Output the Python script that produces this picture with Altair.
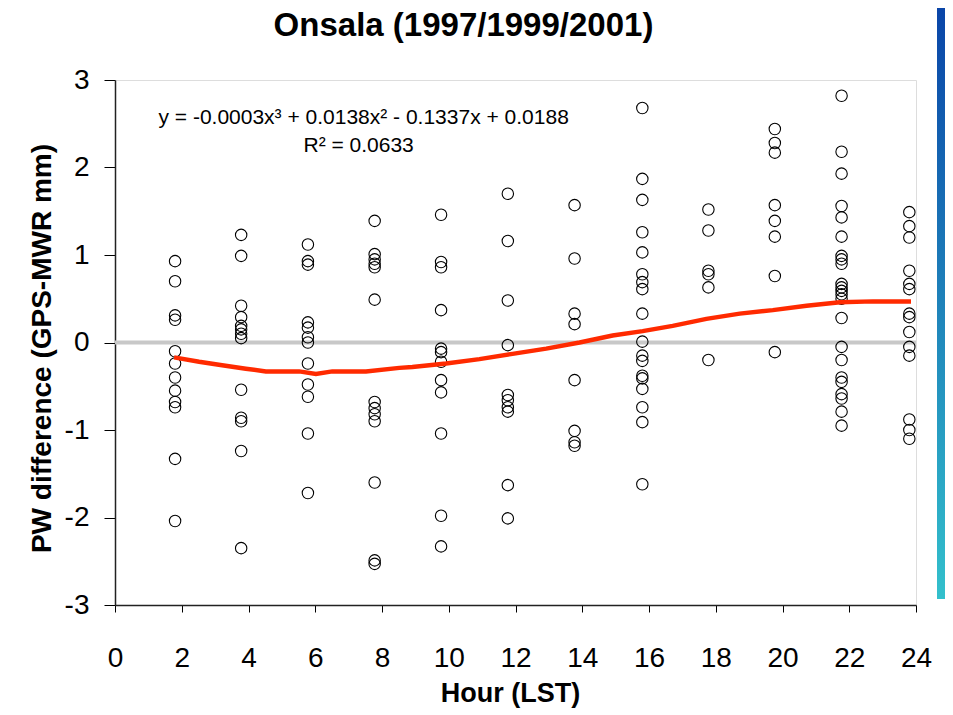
import altair as alt
import pandas as pd

FONT = "Liberation Sans"

# Hour (LST) of each observation column
hours = [1.8, 3.78, 5.78, 7.78, 9.77, 11.77, 13.77, 15.8, 17.78, 19.77, 21.77, 23.8]

# PW difference (GPS-MWR, mm) for each column
pw_02 = [0.93, 0.70, 0.31, 0.26, -0.10, -0.24, -0.40, -0.55, -0.68, -0.74, -1.33, -2.04]
pw_04 = [1.23, 0.99, 0.42, 0.29, 0.19, 0.15, 0.10, 0.05, -0.54, -0.86, -0.90, -1.24, -2.35]
pw_06 = [1.12, 0.93, 0.89, 0.23, 0.17, 0.06, 0.00, -0.24, -0.48, -0.62, -1.04, -1.72]
pw_08 = [1.39, 1.01, 0.95, 0.90, 0.86, 0.49, -0.68, -0.75, -0.82, -0.90, -1.60, -2.49, -2.53]
pw_10 = [1.46, 0.92, 0.86, 0.37, -0.07, -0.11, -0.22, -0.43, -0.57, -1.04, -1.98, -2.33]
pw_12 = [1.70, 1.16, 0.48, -0.03, -0.60, -0.66, -0.74, -0.79, -1.63, -2.01]
pw_14 = [1.57, 0.96, 0.33, 0.21, -0.43, -1.01, -1.14, -1.18]
pw_16 = [2.68, 1.87, 1.63, 1.26, 1.03, 0.78, 0.69, 0.61, 0.33, 0.01, -0.15, -0.21,
         -0.38, -0.41, -0.53, -0.74, -0.91, -1.62]
pw_18 = [1.52, 1.28, 0.82, 0.78, 0.63, -0.20]
pw_20 = [2.44, 2.28, 2.17, 1.57, 1.39, 1.21, 0.76, -0.11]
pw_22 = [2.82, 2.18, 1.93, 1.56, 1.43, 1.21, 0.99, 0.95, 0.90, 0.67, 0.63, 0.59, 0.55,
         0.50, 0.28, -0.05, -0.20, -0.40, -0.45, -0.59, -0.64, -0.79, -0.95]
pw_24 = [1.49, 1.33, 1.20, 0.82, 0.67, 0.61, 0.33, 0.29, 0.12, -0.05, -0.15, -0.88, -1.00, -1.10]

columns = [pw_02, pw_04, pw_06, pw_08, pw_10, pw_12, pw_14, pw_16, pw_18, pw_20, pw_22, pw_24]

# Trend curve
fit_hours = [1.77, 2.52, 3.21, 3.92, 4.52, 5.52, 6.02, 6.51, 7.52, 8.52, 8.91, 9.92,
             10.92, 11.91, 12.92, 13.92, 14.91, 15.81, 16.71, 17.72, 18.72, 19.71,
             20.72, 21.72, 22.71, 23.85]
fit_values = [-0.17, -0.22, -0.26, -0.30, -0.33, -0.33, -0.36, -0.33, -0.33, -0.29, -0.28,
              -0.24, -0.19, -0.13, -0.07, 0.00, 0.08, 0.13, 0.19, 0.27, 0.33, 0.37, 0.42,
              0.46, 0.47, 0.47]

x_ticks = list(range(0, 25, 2))
y_ticks = [-3, -2, -1, 0, 1, 2, 3]

eq_text = ["y = -0.0003x³ + 0.0138x² - 0.1337x + 0.0188", "R² = 0.0633"]
eq_hour = [7.45, 7.3]
eq_diff = [2.57, 2.25]

rows = [{"hour": h, "diff": v} for h, col in zip(hours, columns) for v in col]
points_df = pd.DataFrame(rows)
fit_df = pd.DataFrame({"hour": fit_hours, "diff": fit_values})
eq_df = pd.DataFrame({"hour": eq_hour, "diff": eq_diff, "label": eq_text})

xscale = alt.Scale(domain=[0, 24], nice=False, zero=False)
yscale = alt.Scale(domain=[-3, 3], nice=False)

xaxis = alt.Axis(
    values=x_ticks, title="Hour (LST)", grid=False,
    tickSize=7, tickColor="#000", tickWidth=1,
    domainColor="#222", domainWidth=1.5,
    labelFont=FONT, labelFontSize=28, labelColor="#000",
    labelBaseline="alphabetic", labelPadding=54,
    labelFlush=False, labelOverlap=False, labelExpr="'' + datum.value",
    titleFont=FONT, titleFontSize=27, titleFontWeight="bold", titleColor="#000",
    titleX=395, titleY=96, titleBaseline="alphabetic", titleAlign="center",
)
yaxis = alt.Axis(
    values=y_ticks, title="PW difference (GPS-MWR mm)", grid=False,
    tickSize=11, tickColor="#000", tickWidth=1,
    domainColor="#222", domainWidth=1.5,
    labelFont=FONT, labelFontSize=28, labelColor="#000", labelPadding=15,
    labelFlush=False, labelOverlap=False, labelExpr="'' + datum.value",
    titleFont=FONT, titleFontSize=28, titleFontWeight="bold", titleColor="#000",
    titleX=-65, titleY=268, titleAngle=270, titleBaseline="alphabetic", titleAlign="center",
)

base_x = alt.X("hour:Q", scale=xscale, axis=xaxis)
base_y = alt.Y("diff:Q", scale=yscale, axis=yaxis)

zero_rule = alt.Chart(pd.DataFrame({"diff": [0]})).mark_rule(
    color="#c8c8c8", strokeWidth=4
).encode(y=alt.Y("diff:Q", scale=yscale, axis=yaxis))

pts = alt.Chart(points_df).mark_point(
    shape="circle", filled=False, color="#000", size=130, strokeWidth=1.1, opacity=1
).encode(x=base_x, y=base_y)

curve = alt.Chart(fit_df).mark_line(color="#ff2a00", strokeWidth=4.5).encode(
    x=alt.X("hour:Q", scale=xscale), y=alt.Y("diff:Q", scale=yscale)
)

eq = alt.Chart(eq_df).mark_text(
    font=FONT, fontSize=21, color="#000", align="center", baseline="middle"
).encode(x=alt.X("hour:Q", scale=xscale), y=alt.Y("diff:Q", scale=yscale), text="label:N")

bar = alt.Chart(pd.DataFrame({"k": [0]})).mark_rect(
    color=alt.Gradient(
        gradient="linear",
        stops=[alt.GradientStop(offset=0, color="#0a45a8"),
               alt.GradientStop(offset=1, color="#33c0cc")],
        x1=0, x2=0, y1=0, y2=1,
    )
).encode(x=alt.value(822), x2=alt.value(832), y=alt.value(-72), y2=alt.value(519))

chart = alt.layer(zero_rule, pts, curve, eq, bar).properties(
    width=801, height=525,
    padding={"left": 107, "top": 72, "right": 29, "bottom": 103},
    autosize=alt.AutoSizeParams(type="none"),
    title=alt.Title(
        "Onsala (1997/1999/2001)", font=FONT, fontSize=33, fontWeight="bold",
        color="#000", anchor="middle", frame="group", dx=-52, offset=-61,
        baseline="alphabetic",
    ),
).configure_view(stroke="#888", strokeWidth=1).configure(background="white")

chart.save("out.html", embed_options={"renderer": "svg", "actions": False})
